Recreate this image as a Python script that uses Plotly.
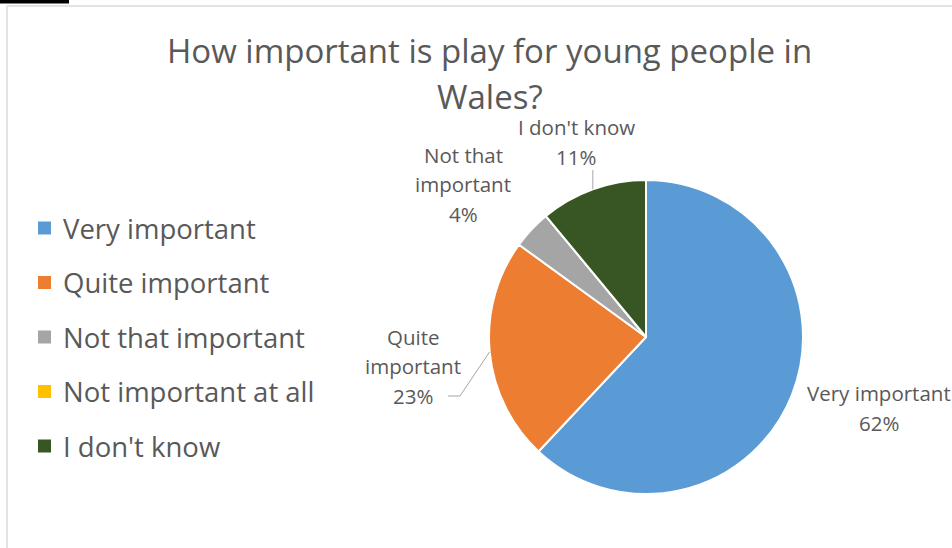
import math
import plotly.graph_objects as go

# Survey answers and their shares (%)
categories = ["Very important", "Quite important", "Not that important",
              "Not important at all", "I don't know"]
shares = [62, 23, 4, 0, 11]
colors = ["#5B9BD5", "#ED7D31", "#A5A5A5", "#FFC000", "#375623"]
title_lines = ["How important is play for young people in", "Wales?"]

W, H = 952, 548
FONT = "Open Sans"
GREY = "#595959"


def px(x):
    return x / W


def py(y):
    return 1 - y / H


# pie geometry in pixels
cx, cy, r = 646, 337, 157

fig = go.Figure(go.Pie(
    labels=categories,
    values=shares,
    sort=False,
    direction="clockwise",
    rotation=0,
    marker=dict(colors=colors, line=dict(color="white", width=2)),
    textinfo="none",
    hoverinfo="label+percent",
    showlegend=False,
    domain=dict(x=[px(cx - r), px(cx + r)], y=[py(cy + r), py(cy - r)]),
))

annotations = []
shapes = []

# title, two lines
for i, line in enumerate(title_lines):
    annotations.append(dict(
        x=px(490), y=py(50 + 47 * i), xref="paper", yref="paper",
        text=line, showarrow=False, xanchor="center", yanchor="middle",
        font=dict(family=FONT, size=33, color=GREY),
    ))

# legend on the left
for i, (name, col) in enumerate(zip(categories, colors)):
    yc = 228 + 54.5 * i
    shapes.append(dict(
        type="rect", xref="paper", yref="paper",
        x0=px(38), x1=px(51), y0=py(yc + 6.5), y1=py(yc - 6.5),
        fillcolor=col, line=dict(width=0),
    ))
    annotations.append(dict(
        x=px(61), y=py(yc), xref="paper", yref="paper", text=name,
        showarrow=False, xanchor="left", yanchor="middle",
        font=dict(family=FONT, size=27.5, color=GREY),
    ))

# data-label placement (label centre in pixels) and leader-line start
label_pos = {
    "Very important": (879, 408, None),
    "Quite important": (413, 366, (455, 396)),
    "Not that important": (463, 184, None),
    "I don't know": (576, 142, (591, 170)),
}

total = sum(shares)
cum = 0
for name, val in zip(categories, shares):
    mid = (cum + val / 2) / total * 2 * math.pi
    cum += val
    if val == 0 or name not in label_pos:
        continue
    lx, ly, lead = label_pos[name]
    pct = round(val / total * 100)
    words = name.split(" ")
    if name == "Very important" or name == "I don't know":
        lines = [name, f"{pct}%"]
    else:
        lines = [" ".join(words[:-1]), words[-1], f"{pct}%"]
    n = len(lines)
    for k, t in enumerate(lines):
        annotations.append(dict(
            x=px(lx), y=py(ly + (k - (n - 1) / 2) * 29.5),
            xref="paper", yref="paper", text=t,
            showarrow=False, xanchor="center", yanchor="middle",
            font=dict(family=FONT, size=20.5, color=GREY),
        ))
    if lead is not None:
        ex = cx + r * math.sin(mid)
        ey = cy - r * math.cos(mid)
        sx, sy = lead
        if abs(ex - sx) < 6:
            pts = [(ex, sy), (ex, ey)]
        else:
            pts = [(sx - 7, sy), (sx + 5, sy), (ex, ey)]
        path = "M " + " L ".join(f"{px(a)},{py(b)}" for a, b in pts)
        shapes.append(dict(type="path", xref="paper", yref="paper", path=path,
                           line=dict(color="#A6A6A6", width=1)))

# chart frame: thin grey border top and left, dark tab at top-left
shapes.append(dict(type="line", xref="paper", yref="paper",
                   x0=px(7), x1=px(W), y0=py(6), y1=py(6),
                   line=dict(color="#D9D9D9", width=1.5)))
shapes.append(dict(type="line", xref="paper", yref="paper",
                   x0=px(7), x1=px(7), y0=py(6), y1=py(H),
                   line=dict(color="#D9D9D9", width=1.5)))
shapes.append(dict(type="rect", xref="paper", yref="paper",
                   x0=0, x1=px(69), y0=py(3.5), y1=1,
                   fillcolor="black", line=dict(width=0)))

fig.update_layout(
    width=W, height=H,
    margin=dict(l=0, r=0, t=0, b=0),
    paper_bgcolor="white",
    plot_bgcolor="white",
    annotations=annotations,
    shapes=shapes,
)

fig.write_html("out.html")
